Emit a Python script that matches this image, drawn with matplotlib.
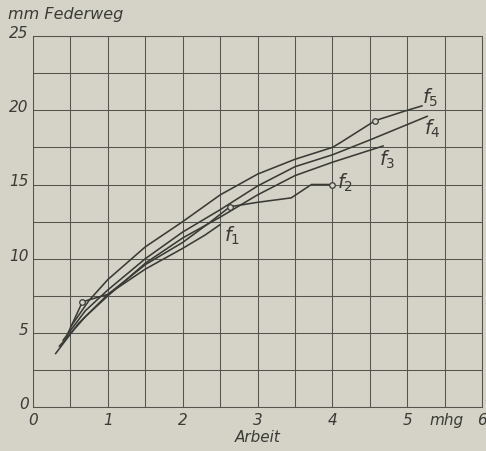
import matplotlib
matplotlib.use("Agg")
import matplotlib.pyplot as plt
import numpy as np

# curve data (Arbeit in mkg, Federweg in mm)
f1_x = [0.30, 0.60, 1.00, 1.50, 2.00, 2.30, 2.50]
f1_y = [3.6, 5.6, 7.6, 9.3, 10.7, 11.6, 12.3]

f2_x = [0.45, 0.66, 1.00, 1.50, 2.00, 2.35, 2.63, 3.00, 3.45, 3.72, 4.00]
f2_y = [4.8, 7.1, 7.6, 9.6, 11.1, 12.4, 13.5, 13.8, 14.1, 15.0, 15.0]

f3_x = [0.35, 0.70, 1.00, 1.50, 2.00, 2.50, 3.00, 3.50, 4.00, 4.68]
f3_y = [4.1, 6.1, 7.5, 9.7, 11.4, 12.8, 14.3, 15.6, 16.5, 17.6]

f4_x = [0.40, 0.70, 1.00, 1.50, 2.00, 2.50, 3.00, 3.50, 4.00, 4.50, 5.27]
f4_y = [4.5, 6.5, 7.9, 10.0, 11.8, 13.3, 14.9, 16.2, 17.0, 18.0, 19.6]

f5_x = [0.50, 0.75, 1.00, 1.50, 2.00, 2.50, 3.00, 3.50, 4.00, 4.10, 4.57, 5.00, 5.20]
f5_y = [5.4, 7.2, 8.6, 10.8, 12.5, 14.3, 15.7, 16.7, 17.5, 17.8, 19.3, 20.0, 20.3]

# small open circles marked on the curves
circle_x = [0.66, 2.63, 4.00, 4.57]
circle_y = [7.1, 13.5, 15.0, 19.3]

curve_labels = ["1", "2", "3", "4", "5"]
label_x = [2.66, 4.17, 4.73, 5.34, 5.30]
label_y = [11.6, 15.2, 16.7, 18.8, 20.9]

x_ticks = [0, 1, 2, 3, 4, 5, 6]
y_ticks = [0, 5, 10, 15, 20, 25]

paper = "#d5d3c7"
ink = "#3a3a36"
grid_ink = "#55554f"

plt.rcParams["mathtext.fontset"] = "dejavusans"

fig = plt.figure(figsize=(4.86, 4.52), dpi=100, facecolor=paper)
ax = fig.add_axes([0.068, 0.097, 0.924, 0.821])
ax.set_facecolor(paper)

ax.set_xlim(0, 6)
ax.set_ylim(0, 25)
ax.set_xticks(np.arange(0, 6.01, 0.5))
ax.set_yticks(np.arange(0, 25.01, 2.5))
ax.grid(True, color=grid_ink, linewidth=0.75)
ax.tick_params(length=0, labelbottom=False, labelleft=False)
for s in ax.spines.values():
    s.set_color(grid_ink)
    s.set_linewidth(0.75)

for xs, ys in [(f1_x, f1_y), (f2_x, f2_y), (f3_x, f3_y), (f4_x, f4_y), (f5_x, f5_y)]:
    ax.plot(xs, ys, color=ink, linewidth=1.15, solid_capstyle="round")
ax.plot(circle_x, circle_y, "o", ms=4, mfc=paper, mec=ink, mew=0.9)

for lab, lx, ly in zip(curve_labels, label_x, label_y):
    ax.text(lx, ly, r"$f_{%s}$" % lab, color=ink, fontsize=14, ha="center", va="center")

tfont = dict(color=ink, style="italic", fontsize=11)
for xv in x_ticks:
    ax.text(xv, -0.85, str(xv), ha="center", va="center", **tfont)
ax.text(5.52, -0.85, "mhg", ha="center", va="center", **tfont)
for yv in y_ticks:
    ax.text(-0.06, yv + 0.25, str(yv), ha="right", va="center", **tfont)

ax.text(3.0, -2.0, "Arbeit", ha="center", va="center", **tfont)
fig.text(0.016, 0.968, "mm Federweg", ha="left", va="center", color=ink,
         style="italic", fontsize=11.5)

fig.savefig("out.png", dpi=100, facecolor=paper)
